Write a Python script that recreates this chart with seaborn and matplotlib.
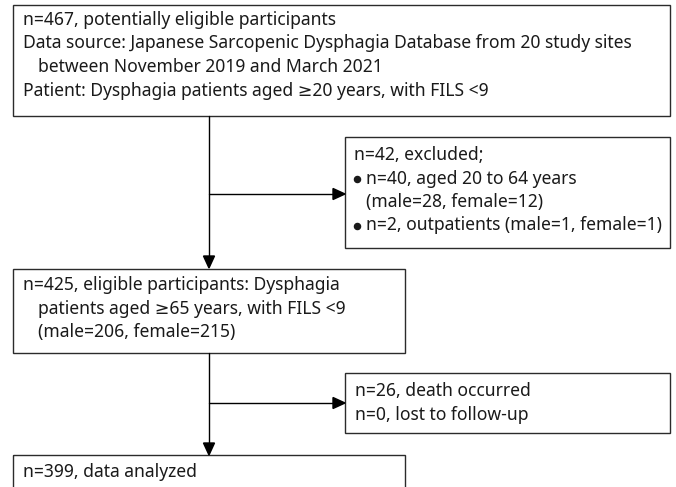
import matplotlib.pyplot as plt
import seaborn as sns
from matplotlib.patches import Rectangle, Polygon

sns.set_theme(style="white")
plt.rcParams['font.family'] = ['Noto Sans', 'DejaVu Sans']

# flowchart text, one list per box
box_top = ["n=467, potentially eligible participants",
           "Data source: Japanese Sarcopenic Dysphagia Database from 20 study sites",
           "between November 2019 and March 2021",
           "Patient: Dysphagia patients aged \u226520 years, with FILS <9"]
box_top_indent = [0, 0, 1, 0]
box_excl = ["n=42, excluded;",
            "n=40, aged 20 to 64 years",
            "(male=28, female=12)",
            "n=2, outpatients (male=1, female=1)"]
box_excl_bullet = [False, True, False, True]
box_elig = ["n=425, eligible participants: Dysphagia",
            "patients aged \u226565 years, with FILS <9",
            "(male=206, female=215)"]
box_elig_indent = [0, 1, 1]
box_death = ["n=26, death occurred",
             "n=0, lost to follow-up"]
box_final = ["n=399, data analyzed"]

fig = plt.figure(figsize=(6.76, 4.87), dpi=100)
ax = fig.add_axes([0, 0, 1, 1])
ax.set_xlim(0, 676)
ax.set_ylim(487, 0)
ax.axis("off")

fs = 12.6
lw = 1.0
edge = "#2b2b2b"
txt = "#1a1a1a"
step = 23.5


def draw_box(x0, y0, x1, y1):
    ax.add_patch(Rectangle((x0, y0), x1 - x0, y1 - y0, fill=False,
                           edgecolor=edge, lw=lw, clip_on=False))


def draw_lines(lines, tx, ty, offsets=None):
    for i, s in enumerate(lines):
        dx = offsets[i] if offsets is not None else 0
        ax.text(tx + dx, ty + i * step, s, fontsize=fs, color=txt,
                va="baseline", ha="left")


def arrow_down(x, y0, y1):
    ax.plot([x, x], [y0, y1 - 11], color="black", lw=lw)
    ax.add_patch(Polygon([[x - 5.5, y1 - 12], [x + 5.5, y1 - 12], [x, y1]],
                         closed=True, color="black"))


def arrow_right(y, x0, x1):
    ax.plot([x0, x1 - 11], [y, y], color="black", lw=lw)
    ax.add_patch(Polygon([[x1 - 12, y - 5.5], [x1 - 12, y + 5.5], [x1, y]],
                         closed=True, color="black"))


draw_box(13, 5, 670, 116)
draw_lines(box_top, 23, 25, [i * 15 for i in box_top_indent])

draw_box(345, 137, 670, 248)
excl_off = [0 if i == 0 else 12 for i in range(len(box_excl))]
draw_lines(box_excl, 354, 160, excl_off)
for i, b in enumerate(box_excl_bullet):
    if b:
        ax.plot(357, 160 + i * step - 5, marker="o", ms=4.4, color=txt)

draw_box(13, 269, 405, 353)
draw_lines(box_elig, 23, 290, [i * 15 for i in box_elig_indent])

draw_box(345, 373, 670, 433)
draw_lines(box_death, 355, 396)

draw_box(13, 455, 405, 500)
draw_lines(box_final, 23, 477)

spine_x = 209
arrow_down(spine_x, 116, 268)
arrow_right(194, spine_x, 345)
arrow_down(spine_x, 353, 455)
arrow_right(403, spine_x, 345)

fig.savefig("out.png", dpi=100)
